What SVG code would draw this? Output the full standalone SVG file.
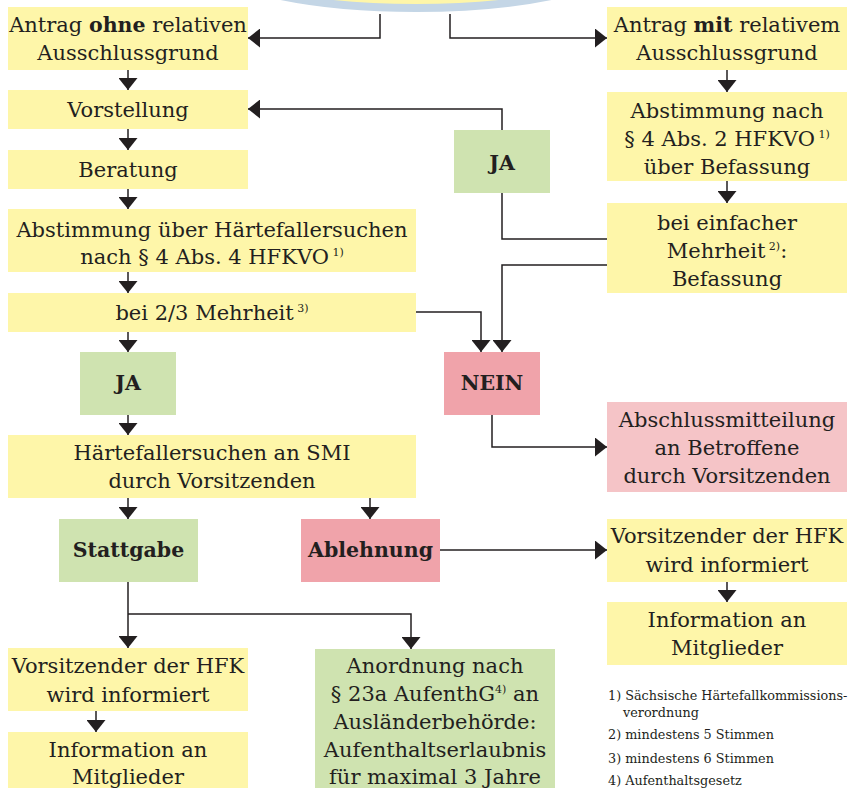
<svg xmlns="http://www.w3.org/2000/svg" width="851" height="788" viewBox="0 0 851 788">
<style>
.t{font-family:"DejaVu Serif","Liberation Serif",serif;font-size:21px;fill:#231f20;text-anchor:middle}
.b{font-weight:bold;font-size:20.5px}
.s{font-size:11px}
.fn{font-family:"DejaVu Serif","Liberation Serif",serif;font-size:12.8px;fill:#231f20}
.y{fill:#fef6a9}
.g{fill:#cfe3b0}
.p{fill:#f0a3aa}
.lp{fill:#f5c4c7}
.c{fill:none;stroke:#231f20;stroke-width:1.5}
</style>
<defs>
<marker id="ah" markerUnits="userSpaceOnUse" markerWidth="12" markerHeight="19" viewBox="0 0 12 19" refX="12" refY="9.5" orient="auto">
<path d="M0,0 L12,9.5 L0,19 z" fill="#231f20"/>
</marker>
</defs>
<rect width="851" height="788" fill="#ffffff"/>
<ellipse id="top" cx="416" cy="-48" rx="218" ry="56" fill="#fef6a9" stroke="#c4d6e6" stroke-width="8"/>

<g id="connectors">
<path class="c" d="M380,14 V38 H248" marker-end="url(#ah)"/>
<path class="c" d="M450,14 V38 H607" marker-end="url(#ah)"/>
<path class="c" d="M128,70 V90" marker-end="url(#ah)"/>
<path class="c" d="M128,129 V150" marker-end="url(#ah)"/>
<path class="c" d="M128,189 V209" marker-end="url(#ah)"/>
<path class="c" d="M128,272 V293" marker-end="url(#ah)"/>
<path class="c" d="M128,332 V352" marker-end="url(#ah)"/>
<path class="c" d="M128,415 V435" marker-end="url(#ah)"/>
<path class="c" d="M128,498 V519" marker-end="url(#ah)"/>
<path class="c" d="M370,498 V519" marker-end="url(#ah)"/>
<path class="c" d="M440,550 H607" marker-end="url(#ah)"/>
<path class="c" d="M727,582 V602" marker-end="url(#ah)"/>
<path class="c" d="M128,582 V648" marker-end="url(#ah)"/>
<path class="c" d="M128,614 H411 V649" marker-end="url(#ah)"/>
<path class="c" d="M96,711 V732" marker-end="url(#ah)"/>
<path class="c" d="M727,70 V92" marker-end="url(#ah)"/>
<path class="c" d="M727,181 V203" marker-end="url(#ah)"/>
<path class="c" d="M607,239 H502 V109 H248" marker-end="url(#ah)"/>
<path class="c" d="M607,265 H502 V352" marker-end="url(#ah)"/>
<path class="c" d="M416,312 H481 V352" marker-end="url(#ah)"/>
<path class="c" d="M492,415 V447 H607" marker-end="url(#ah)"/>
</g>

<g id="antrag-ohne"><rect class="y" x="8" y="7" width="240" height="63"/>
<text class="t" x="128" y="32">Antrag <tspan class="b">ohne</tspan> relativen</text>
<text class="t" x="128" y="60">Ausschlussgrund</text></g>

<g id="vorstellung"><rect class="y" x="8" y="90" width="240" height="39"/>
<text class="t" x="128" y="117">Vorstellung</text></g>

<g id="beratung"><rect class="y" x="8" y="150" width="240" height="39"/>
<text class="t" x="128" y="177">Beratung</text></g>

<g id="abstimmung-haerte"><rect class="y" x="8" y="209" width="408" height="63"/>
<text class="t" x="212" y="237">Abstimmung über Härtefallersuchen</text>
<text class="t" x="212" y="264">nach § 4 Abs. 4 HFKVO<tspan class="s" dy="-8"> 1)</tspan></text></g>

<g id="zweidrittel"><rect class="y" x="8" y="293" width="408" height="39"/>
<text class="t" x="212" y="320">bei 2/3 Mehrheit<tspan class="s" dy="-8"> 3)</tspan></text></g>

<g id="ja-links"><rect class="g" x="80" y="352" width="96" height="63"/>
<text class="t b" x="128" y="390">JA</text></g>

<g id="ersuchen-smi"><rect class="y" x="8" y="435" width="408" height="63"/>
<text class="t" x="212" y="460">Härtefallersuchen an SMI</text>
<text class="t" x="212" y="488">durch Vorsitzenden</text></g>

<g id="stattgabe"><rect class="g" x="59" y="519" width="139" height="63"/>
<text class="t b" x="128.5" y="557">Stattgabe</text></g>

<g id="ablehnung"><rect class="p" x="301" y="519" width="139" height="63"/>
<text class="t b" x="370.5" y="557">Ablehnung</text></g>

<g id="vorsitz-links"><rect class="y" x="8" y="648" width="240" height="63"/>
<text class="t" x="128" y="673">Vorsitzender der HFK</text>
<text class="t" x="128" y="702">wird informiert</text></g>

<g id="info-links"><rect class="y" x="8" y="732" width="240" height="60"/>
<text class="t" x="128" y="757">Information an</text>
<text class="t" x="128" y="784">Mitglieder</text></g>

<g id="anordnung"><rect class="g" x="315" y="649" width="240" height="143"/>
<text class="t" x="435" y="673">Anordnung nach</text>
<text class="t" x="435" y="701">§ 23a AufenthG<tspan class="s" dy="-8">4)</tspan><tspan dy="8"> an</tspan></text>
<text class="t" x="435" y="729">Ausländerbehörde:</text>
<text class="t" x="435" y="757">Aufenthaltserlaubnis</text>
<text class="t" x="435" y="784">für maximal 3 Jahre</text></g>

<g id="antrag-mit"><rect class="y" x="607" y="7" width="240" height="63"/>
<text class="t" x="727" y="32">Antrag <tspan class="b">mit</tspan> relativem</text>
<text class="t" x="727" y="60">Ausschlussgrund</text></g>

<g id="abstimmung-befassung"><rect class="y" x="607" y="92" width="240" height="89"/>
<text class="t" x="727" y="118">Abstimmung nach</text>
<text class="t" x="727" y="146">§ 4 Abs. 2 HFKVO<tspan class="s" dy="-8"> 1)</tspan></text>
<text class="t" x="727" y="174">über Befassung</text></g>

<g id="einfache-mehrheit"><rect class="y" x="607" y="203" width="240" height="90"/>
<text class="t" x="727" y="230">bei einfacher</text>
<text class="t" x="727" y="258">Mehrheit<tspan class="s" dy="-8"> 2)</tspan><tspan dy="8">:</tspan></text>
<text class="t" x="727" y="286">Befassung</text></g>

<g id="ja-oben"><rect class="g" x="454" y="130" width="96" height="63"/>
<text class="t b" x="502" y="170">JA</text></g>

<g id="nein"><rect class="p" x="444" y="352" width="96" height="63"/>
<text class="t b" x="492" y="390">NEIN</text></g>

<g id="abschluss"><rect class="lp" x="607" y="402" width="240" height="90"/>
<text class="t" x="727" y="427">Abschlussmitteilung</text>
<text class="t" x="727" y="455">an Betroffene</text>
<text class="t" x="727" y="483">durch Vorsitzenden</text></g>

<g id="vorsitz-rechts"><rect class="y" x="607" y="519" width="240" height="63"/>
<text class="t" x="727" y="543">Vorsitzender der HFK</text>
<text class="t" x="727" y="572">wird informiert</text></g>

<g id="info-rechts"><rect class="y" x="607" y="602" width="240" height="63"/>
<text class="t" x="727" y="627">Information an</text>
<text class="t" x="727" y="655">Mitglieder</text></g>

<g id="fussnoten">
<text class="fn" x="608" y="700">1) Sächsische Härtefallkommissions-</text>
<text class="fn" x="623" y="717">verordnung</text>
<text class="fn" x="608" y="739">2) mindestens 5 Stimmen</text>
<text class="fn" x="608" y="763">3) mindestens 6 Stimmen</text>
<text class="fn" x="608" y="785">4) Aufenthaltsgesetz</text>
</g>
</svg>
